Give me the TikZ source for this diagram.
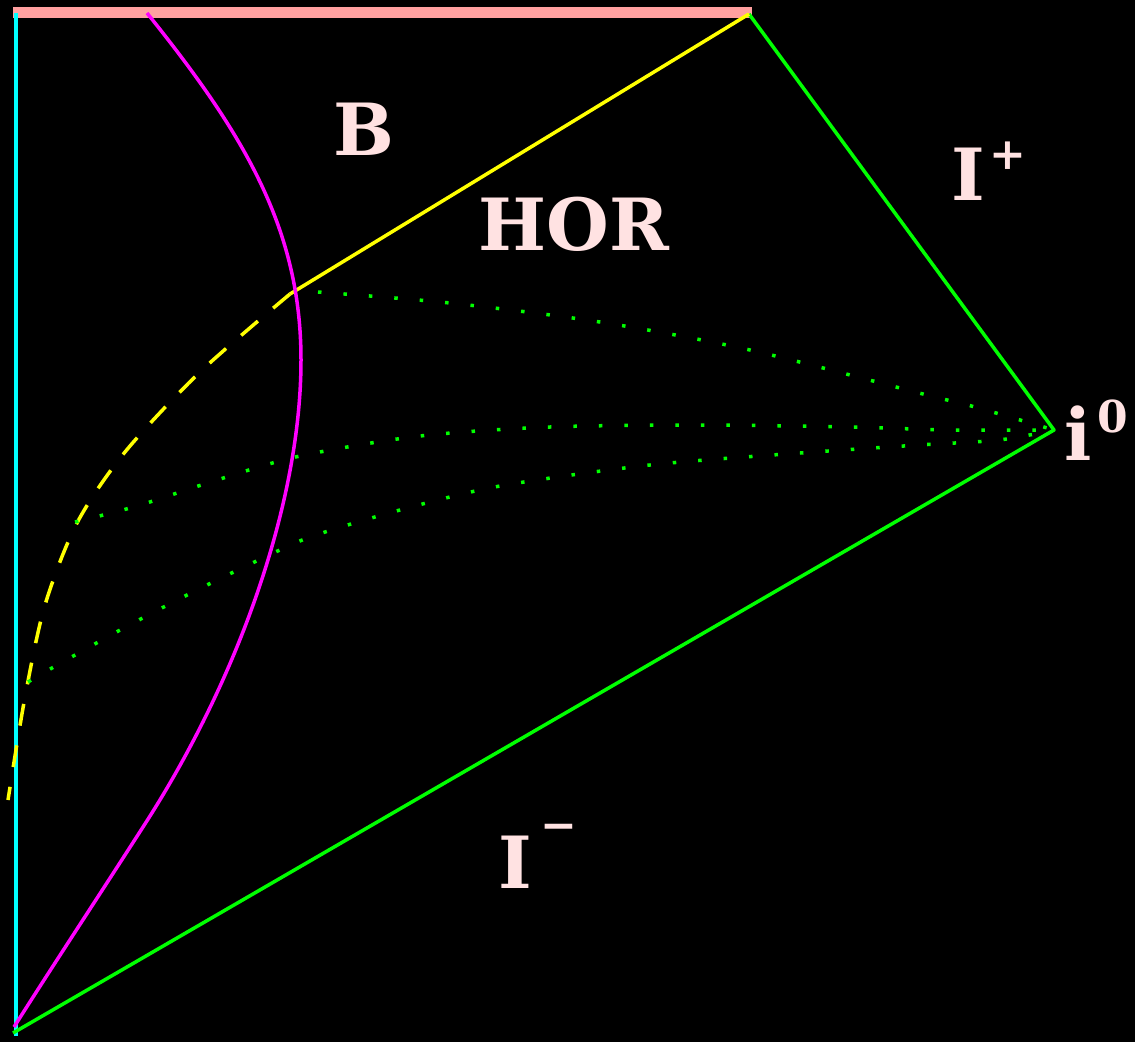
\documentclass[tikz,border=0pt]{standalone}
\usepackage{xcolor}
\usepackage{fontspec}
\setmainfont{DejaVu Serif}
\usepackage{tikz}
\definecolor{rosy}{HTML}{FFE2E2}
\definecolor{bar}{HTML}{FFA0A0}
\definecolor{grn}{HTML}{00FF00}
\definecolor{cyn}{HTML}{00FFFF}
\definecolor{mag}{HTML}{FF00FF}
\definecolor{ylw}{HTML}{FFFF00}
\newcommand{\upsc}[2]{\raisebox{#1}{\fontsize{44}{44}\selectfont #2}}

\begin{document}
\begin{tikzpicture}[x=1pt,y=-1pt,line join=round,
   lbl/.style={text=rosy,inner sep=0pt,font=\bfseries\fontsize{72}{72}\selectfont},
   ln/.style={line width=3.5pt},
   dotty/.style={grn,line width=3.5pt,dash pattern=on 3.5pt off 22pt}]
  \fill[black] (0,0) rectangle (1135,1042);
  \useasboundingbox (0,0) rectangle (1135,1042);
  % corners of the diagram
  \coordinate (bl) at (13,1033);
  \coordinate (tl) at (16,13);
  \coordinate (tr) at (749,14);
  \coordinate (io) at (1054,430);
  \coordinate (hz) at (290,294);
  \coordinate (dz) at (8,800);
  % boundaries
  \draw[bar,line width=11pt] (13,12) -- (752,12);
  \draw[ln,cyn] (tl) -- (16,1036);
  \draw[ln,grn] (tr) -- (io) -- (bl);
  \draw[ln,ylw] (hz) -- (tr);
  \draw[ln,ylw,dash pattern=on 22pt off 20pt] plot[smooth] coordinates
    {(hz) (200,372) (125,452) (77,523) (45,605) (25,697) (dz)};
  % star surface
  \draw[ln,mag] (147,13) .. controls (245,135) and (301,230) .. (301,360)
    .. controls (301,500) and (240,677) .. (143,827)
    .. controls (100,894) and (50,970) .. (14,1027);
  % slices ending at i0
  \draw[dotty] plot[smooth] coordinates
    {(318,292) (450,303) (600,322) (750,350) (923,394) (975,407) (io)};
  \draw[dotty] plot[smooth] coordinates
    {(75,522) (137,506) (217,480) (300,456) (420,436) (550,427) (700,425) (850,427) (950,430) (io)};
  \draw[dotty] plot[smooth] coordinates
    {(28,682) (52,668) (122,629) (193,592) (265,557) (313,536) (400,510) (500,486) (650,465) (800,453) (919,445) (999,440) (io)};
  % labels
  \node[lbl,anchor=base] (lb) at (364,155) {B};
  \node[lbl,anchor=base] (lh) at (574,250) {HOR};
  \node[lbl,anchor=base west] (lp) at (951,200) {I\kern5pt\upsc{31pt}{+}};
  \node[lbl,anchor=base west] (li) at (1064,460) {i\kern6pt\upsc{28pt}{0}};
  \node[lbl,anchor=base west] (lm) at (498,888) {I\kern9pt\upsc{48pt}{−}};
\end{tikzpicture}
\end{document}
